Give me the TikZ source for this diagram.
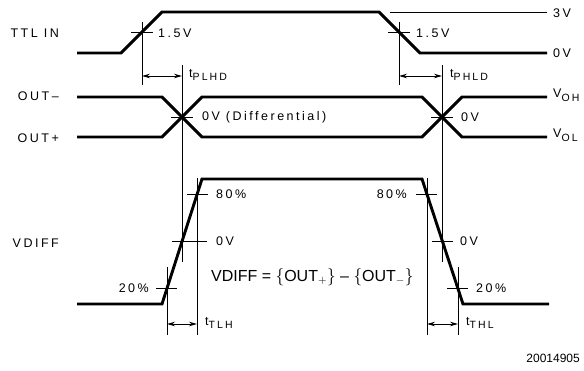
\documentclass[tikz,border=0pt]{standalone}
\usepackage{fontspec}
\setmainfont{Liberation Sans}
\newfontfamily\lblfont[LetterSpace=20]{Liberation Sans}
\usetikzlibrary{arrows.meta}
\newcommand\lowsub[1]{\raisebox{-3.6pt}{\fontsize{10.5}{12}\selectfont #1}}
\tikzset{
  wave/.style={line width=2.9pt, line join=miter, line cap=butt},
  guide/.style={line width=0.9pt},
  tmark/.style={line width=0.9pt, {Stealth[length=8pt,width=4.5pt]}-{Stealth[length=8pt,width=4.5pt]}},
  lbl/.style={inner sep=0pt, font=\lblfont\fontsize{12.5}{14}\selectfont},
  formula/.style={inner sep=0pt, font=\fontsize{16}{18}\selectfont},
  fig/.style={inner sep=0pt, font=\fontsize{12}{14}\selectfont}
}
\begin{document}
\begin{tikzpicture}[x=1pt,y=-1pt]
\useasboundingbox (0,0) rectangle (584,370);
% waveforms
\draw[wave] (77,53) -- (121,53) -- (162,12) -- (379,12) -- (420,53) -- (547,53);
\draw[guide] (390,12) -- (547,12);
\draw[wave] (77,97) -- (162,97) -- (202,137) -- (422,137) -- (462,97) -- (547,97);
\draw[wave] (77,137) -- (162,137) -- (202,97) -- (422,97) -- (462,137) -- (547,137);
\draw[wave] (77,304) -- (162,304) -- (202,179) -- (422,179) -- (463,304) -- (549,304);
% reference (vertical) lines
\coordinate (a1) at (142,76); \coordinate (a2) at (182,76);
\coordinate (b1) at (399,76); \coordinate (b2) at (442,76);
\coordinate (c1) at (167,324); \coordinate (c2) at (197,324);
\coordinate (d1) at (427,324); \coordinate (d2) at (458,324);
\draw[guide] (142,22) -- (142,85);
\draw[guide] (399,22) -- (399,85);
\draw[guide] (182,65) -- (182,262);
\draw[guide] (442,65) -- (442,262);
\draw[guide] (197,178) -- (197,335);
\draw[guide] (427,178) -- (427,335);
\draw[guide] (167,267) -- (167,335);
\draw[guide] (458,267) -- (458,335);
% cross ticks
\draw[guide] (131,32) -- (153,32);
\draw[guide] (388,32) -- (410,32);
\draw[guide] (171,117) -- (193,117);
\draw[guide] (431,117) -- (453,117);
\draw[guide] (187,194) -- (208,194);
\draw[guide] (416,194) -- (437,194);
\draw[guide] (172,241) -- (207,241);
\draw[guide] (432,241) -- (453,241);
\draw[guide] (156,288) -- (177,288);
\draw[guide] (447,288) -- (468,288);
% timing arrows
\draw[tmark] (a1) -- (a2);
\draw[tmark] (b1) -- (b2);
\draw[tmark] (c1) -- (c2);
\draw[tmark] (d1) -- (d2);
% left labels
\node[lbl, anchor=east] (ttl) at (59,33) {TTL IN};
\node[lbl, anchor=east] (om) at (59,96) {OUT–};
\node[lbl, anchor=east] (op) at (59,138) {OUT+};
\node[lbl, anchor=east] (vd) at (59,243) {VDIFF};
% level labels
\node[lbl, anchor=west] (l1) at (158,33) {1.5V};
\node[lbl, anchor=west] (l2) at (416,33) {1.5V};
\node[lbl, anchor=west] (tp1) at (189,75) {t\lowsub{PLHD}};
\node[lbl, anchor=west] (tp2) at (450,75) {t\lowsub{PHLD}};
\node[lbl, anchor=west] (zd) at (202,117) {0V (Differential)};
\node[lbl, anchor=west] (z1) at (461,117) {0V};
\node[lbl, anchor=west] (v3) at (553,13) {3V};
\node[lbl, anchor=west] (v0) at (553,53) {0V};
\node[lbl, anchor=west] (voh) at (553,95) {V\lowsub{OH}};
\node[lbl, anchor=west] (vol) at (553,135) {V\lowsub{OL}};
\node[lbl, anchor=west] (p80a) at (216,194) {80\%};
\node[lbl, anchor=west] (z2) at (216,241) {0V};
\node[lbl, anchor=east] (p20a) at (149,288) {20\%};
\node[lbl, anchor=east] (p80b) at (407,194) {80\%};
\node[lbl, anchor=west] (z3) at (460,241) {0V};
\node[lbl, anchor=west] (p20b) at (476,288) {20\%};
\node[lbl, anchor=west] (tt1) at (205,323) {t\lowsub{TLH}};
\node[lbl, anchor=west] (tt2) at (466,323) {t\lowsub{THL}};
\node[formula, anchor=west] (eq) at (211,277) {VDIFF = $\Big\{$OUT$_{+}$$\Big\}$ – $\Big\{$OUT$_{-}$$\Big\}$};
\node[fig, anchor=east] (num) at (580,358) {20014905};
\end{tikzpicture}
\end{document}
